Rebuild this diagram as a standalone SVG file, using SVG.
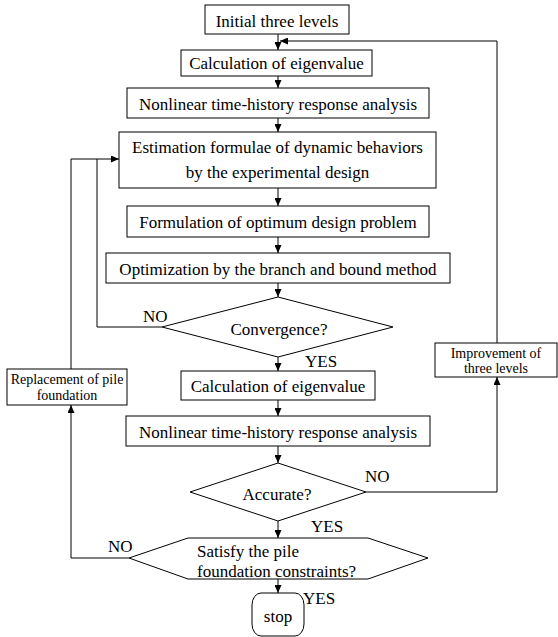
<svg xmlns="http://www.w3.org/2000/svg" width="558" height="637" viewBox="0 0 558 637">
<style>
  .box { fill: #fff; stroke: #000; stroke-width: 1; }
  .ln { fill: none; stroke: #000; stroke-width: 1; }
  .t { font-family: "Liberation Serif", "Times New Roman", serif; font-size: 17px; fill: #000; }
  .s { font-family: "Liberation Serif", "Times New Roman", serif; font-size: 14px; fill: #000; }
  .m { text-anchor: middle; }
</style>
<defs>
  <marker id="ah" markerUnits="userSpaceOnUse" markerWidth="8" markerHeight="7" refX="8" refY="3.5" orient="auto">
    <path d="M0,0 L8,3.5 L0,7 z" fill="#000"/>
  </marker>
</defs>
<rect width="558" height="637" fill="#fff"/>
<g id="connectors">
  <line class="ln" x1="278" y1="34" x2="278" y2="50" marker-end="url(#ah)"/>
  <polyline class="ln" points="497,343 497,41 280,41" marker-end="url(#ah)"/>
  <line class="ln" x1="278" y1="76" x2="278" y2="88" marker-end="url(#ah)"/>
  <line class="ln" x1="278" y1="118" x2="278" y2="132" marker-end="url(#ah)"/>
  <line class="ln" x1="278" y1="188" x2="278" y2="206" marker-end="url(#ah)"/>
  <line class="ln" x1="278" y1="237" x2="278" y2="253" marker-end="url(#ah)"/>
  <line class="ln" x1="278" y1="283" x2="278" y2="297" marker-end="url(#ah)"/>
  <polyline class="ln" points="162,327 97,327 97,159"/>
  <polyline class="ln" points="71,369 71,159 119,159" marker-end="url(#ah)"/>
  <line class="ln" x1="278" y1="357" x2="278" y2="371" marker-end="url(#ah)"/>
  <line class="ln" x1="278" y1="400" x2="278" y2="416" marker-end="url(#ah)"/>
  <line class="ln" x1="278" y1="446" x2="278" y2="463" marker-end="url(#ah)"/>
  <polyline class="ln" points="366,492 497,492 497,377" marker-end="url(#ah)"/>
  <line class="ln" x1="278" y1="521" x2="278" y2="538" marker-end="url(#ah)"/>
  <polyline class="ln" points="129,558 71,558 71,405" marker-end="url(#ah)"/>
  <line class="ln" x1="278" y1="579" x2="278" y2="593" marker-end="url(#ah)"/>
  <text class="t" x="143" y="322">NO</text>
  <text class="t" x="305" y="367">YES</text>
  <text class="t" x="365" y="482">NO</text>
  <text class="t" x="311" y="532">YES</text>
  <text class="t" x="108" y="552">NO</text>
  <text class="t" x="303" y="604">YES</text>
</g>
<g id="n1">
  <rect class="box" x="205" y="5" width="144" height="29"/>
  <text class="t m" x="277" y="27">Initial three levels</text>
</g>
<g id="n2">
  <rect class="box" x="181" y="50" width="191" height="26"/>
  <text class="t m" x="276.5" y="69">Calculation of eigenvalue</text>
</g>
<g id="n3">
  <rect class="box" x="127" y="88" width="302" height="30"/>
  <text class="t m" x="278" y="110">Nonlinear time-history response analysis</text>
</g>
<g id="n4">
  <rect class="box" x="119" y="132" width="317" height="56"/>
  <text class="t m" x="277.5" y="153">Estimation formulae of dynamic behaviors</text>
  <text class="t m" x="277.5" y="178">by the experimental design</text>
</g>
<g id="n5">
  <rect class="box" x="127" y="206" width="302" height="31"/>
  <text class="t m" x="278" y="228">Formulation of optimum design problem</text>
</g>
<g id="n6">
  <rect class="box" x="106" y="253" width="344" height="30"/>
  <text class="t m" x="278" y="275">Optimization by the branch and bound method</text>
</g>
<g id="n7">
  <polygon class="box" points="278,297 393,327 278,357 162,327"/>
  <text class="t m" x="279" y="335">Convergence?</text>
</g>
<g id="n8">
  <rect class="box" x="181" y="371" width="194" height="29"/>
  <text class="t m" x="278" y="392">Calculation of eigenvalue</text>
</g>
<g id="n9">
  <rect class="box" x="126" y="416" width="304" height="30"/>
  <text class="t m" x="278" y="438">Nonlinear time-history response analysis</text>
</g>
<g id="n10">
  <polygon class="box" points="278,463 366,492 278,521 190,492"/>
  <text class="t m" x="277" y="500">Accurate?</text>
</g>
<g id="n11">
  <polygon class="box" points="188,538 368,538 428,558 368,579 188,579 129,558"/>
  <text class="t" x="197" y="557">Satisfy the pile</text>
  <text class="t" x="197" y="577">foundation constraints?</text>
</g>
<g id="n12">
  <rect class="box" x="252" y="593" width="52" height="43" rx="9" ry="12"/>
  <text class="t m" x="278" y="622">stop</text>
</g>
<g id="n13">
  <rect class="box" x="7" y="369" width="120" height="36"/>
  <text class="s m" x="67" y="384">Replacement of pile</text>
  <text class="s m" x="67" y="400">foundation</text>
</g>
<g id="n14">
  <rect class="box" x="435" y="343" width="122" height="34"/>
  <text class="s m" x="496" y="358">Improvement of</text>
  <text class="s m" x="496" y="373">three levels</text>
</g>
</svg>
